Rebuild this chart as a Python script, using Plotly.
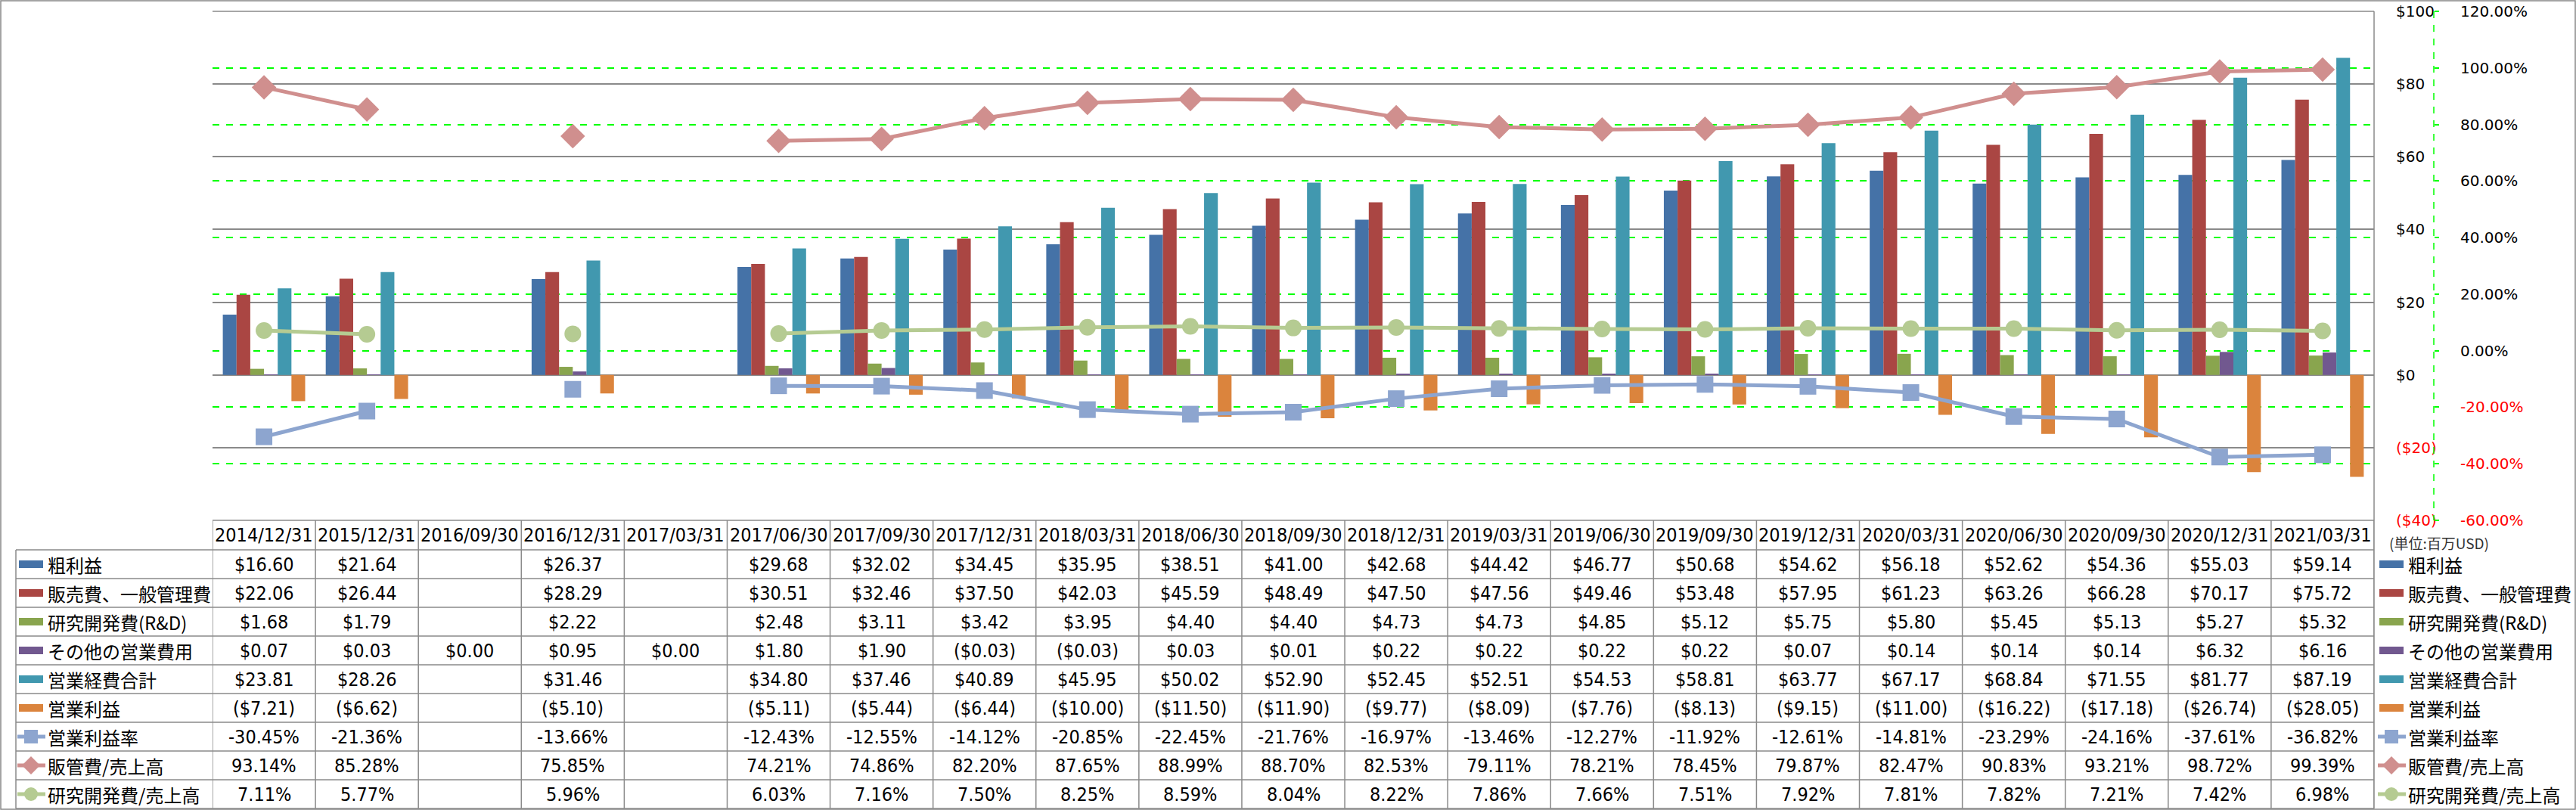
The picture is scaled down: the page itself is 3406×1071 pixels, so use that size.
import plotly.graph_objects as go

W, H = 3406, 1071

cats = ["2014/12/31", "2015/12/31", "2016/09/30", "2016/12/31", "2017/03/31",
        "2017/06/30", "2017/09/30", "2017/12/31", "2018/03/31", "2018/06/30",
        "2018/09/30", "2018/12/31", "2019/03/31", "2019/06/30", "2019/09/30",
        "2019/12/31", "2020/03/31", "2020/06/30", "2020/09/30", "2020/12/31",
        "2021/03/31"]

gross = [16.60, 21.64, None, 26.37, None, 29.68, 32.02, 34.45, 35.95, 38.51, 41.00,
         42.68, 44.42, 46.77, 50.68, 54.62, 56.18, 52.62, 54.36, 55.03, 59.14]
sga = [22.06, 26.44, None, 28.29, None, 30.51, 32.46, 37.50, 42.03, 45.59, 48.49,
       47.50, 47.56, 49.46, 53.48, 57.95, 61.23, 63.26, 66.28, 70.17, 75.72]
rnd = [1.68, 1.79, None, 2.22, None, 2.48, 3.11, 3.42, 3.95, 4.40, 4.40,
       4.73, 4.73, 4.85, 5.12, 5.75, 5.80, 5.45, 5.13, 5.27, 5.32]
other = [0.07, 0.03, 0.00, 0.95, 0.00, 1.80, 1.90, -0.03, -0.03, 0.03, 0.01,
         0.22, 0.22, 0.22, 0.22, 0.07, 0.14, 0.14, 0.14, 6.32, 6.16]
opex = [23.81, 28.26, None, 31.46, None, 34.80, 37.46, 40.89, 45.95, 50.02, 52.90,
        52.45, 52.51, 54.53, 58.81, 63.77, 67.17, 68.84, 71.55, 81.77, 87.19]
opinc = [-7.21, -6.62, None, -5.10, None, -5.11, -5.44, -6.44, -10.00, -11.50, -11.90,
         -9.77, -8.09, -7.76, -8.13, -9.15, -11.00, -16.22, -17.18, -26.74, -28.05]
opm = [-30.45, -21.36, None, -13.66, None, -12.43, -12.55, -14.12, -20.85, -22.45, -21.76,
       -16.97, -13.46, -12.27, -11.92, -12.61, -14.81, -23.29, -24.16, -37.61, -36.82]
sga_ratio = [93.14, 85.28, None, 75.85, None, 74.21, 74.86, 82.20, 87.65, 88.99, 88.70,
             82.53, 79.11, 78.21, 78.45, 79.87, 82.47, 90.83, 93.21, 98.72, 99.39]
rnd_ratio = [7.11, 5.77, None, 5.96, None, 6.03, 7.16, 7.50, 8.25, 8.59, 8.04,
             8.22, 7.86, 7.66, 7.51, 7.92, 7.81, 7.82, 7.21, 7.42, 6.98]

y1_ticks = [-40, -20, 0, 20, 40, 60, 80, 100]
y2_ticks = [-60, -40, -20, 0, 20, 40, 60, 80, 100, 120]
unit_note = "(単位:百万USD)"

bar_series = [
    ("粗利益", gross, "#4572A7"),
    ("販売費、一般管理費", sga, "#AA4643"),
    ("研究開発費(R&D)", rnd, "#89A54E"),
    ("その他の営業費用", other, "#71588F"),
    ("営業経費合計", opex, "#4198AF"),
    ("営業利益", opinc, "#DB843D"),
]
line_series = [
    ("営業利益率", opm, "#8DA5CF", "square", 22),
    ("販管費/売上高", sga_ratio, "#D08F8E", "diamond", 25),
    ("研究開発費/売上高", rnd_ratio, "#B5CB92", "circle", 22),
]

# ---- geometry (pixels) ----
PL, PR, PT, PB = 281, 3139, 15, 688
HEAD_BOT = 727
TAB_BOT = 1069
LAB_L = 21
ROW_H = (TAB_BOT - HEAD_BOT) / 9
Y2_X = 3218
LEG_X = 3146

GRID = "#8A8A8A"
NUM_FONT = "Liberation Sans Narrow, Arial Narrow, DejaVu Sans Condensed, Noto Sans CJK JP, sans-serif"
JP_FONT = "Noto Sans CJK JP, sans-serif"
AX_FONT = "DejaVu Sans, sans-serif"


def fx(x):
    return x / W


def fy(y):
    return 1 - y / H


def money(v):
    if v is None:
        return ""
    return "(${:.2f})".format(abs(v)) if v < 0 else "${:.2f}".format(v)


def pct(v):
    if v is None:
        return ""
    return "{:.2f}%".format(v)


fig = go.Figure()

for name, vals, col in bar_series:
    fig.add_trace(go.Bar(x=cats, y=vals, name=name, marker=dict(color=col, line=dict(width=0)),
                         yaxis="y", showlegend=False))

for name, vals, col, sym, sz in line_series:
    fig.add_trace(go.Scatter(x=cats, y=vals, name=name, mode="lines+markers", yaxis="y2",
                             connectgaps=False, line=dict(color=col, width=5),
                             marker=dict(symbol=sym, size=sz, color=col, line=dict(width=0)),
                             showlegend=False))


def red(t, neg):
    return "<span style='color:#FF0000'>%s</span>" % t if neg else t


y1_text = [red("(${})".format(abs(v)) if v < 0 else "${}".format(v), v < 0) for v in y1_ticks]
y2_text = [red("{:.2f}%".format(v), v < 0) for v in y2_ticks]

shapes = []
annotations = []

# outer chart border
shapes.append(dict(type="rect", xref="paper", yref="paper", x0=fx(1), x1=fx(W - 1), y0=fy(1), y1=fy(H - 1),
                   line=dict(color="#868686", width=1.5), layer="below"))
# plot top border and right border (extends into table)
shapes.append(dict(type="line", xref="paper", yref="paper", x0=fx(PL), x1=fx(PR), y0=fy(PT), y1=fy(PT),
                   line=dict(color=GRID, width=1.5), layer="below"))
shapes.append(dict(type="line", xref="paper", yref="paper", x0=fx(PR), x1=fx(PR), y0=fy(PT), y1=fy(TAB_BOT),
                   line=dict(color=GRID, width=1.5)))
# secondary axis dashed line
shapes.append(dict(type="line", xref="paper", yref="paper", x0=fx(Y2_X), x1=fx(Y2_X), y0=fy(PT), y1=fy(PB),
                   line=dict(color="#00FF00", width=1.5, dash="dash")))

# ---- data table ----
shapes.append(dict(type="line", xref="paper", yref="paper", x0=fx(PL), x1=fx(PR), y0=fy(PB), y1=fy(PB),
                   line=dict(color=GRID, width=1.5)))
for k in range(10):
    yy = HEAD_BOT + k * ROW_H
    shapes.append(dict(type="line", xref="paper", yref="paper", x0=fx(LAB_L), x1=fx(PR), y0=fy(yy), y1=fy(yy),
                       line=dict(color=GRID, width=1.5)))
for k in range(len(cats) + 1):
    shapes.append(dict(type="line", xref="x", yref="paper", x0=k - 0.5, x1=k - 0.5, y0=fy(PB), y1=fy(TAB_BOT),
                       line=dict(color=GRID, width=1.5)))
shapes.append(dict(type="line", xref="paper", yref="paper", x0=fx(LAB_L), x1=fx(LAB_L), y0=fy(HEAD_BOT),
                   y1=fy(TAB_BOT), line=dict(color=GRID, width=1.5)))

# header dates
for c in cats:
    annotations.append(dict(x=c, xref="x", y=fy((PB + HEAD_BOT) / 2), yref="paper", text=c, showarrow=False,
                            xanchor="center", yanchor="middle", font=dict(family=NUM_FONT, size=25, color="#000")))

rows = [(name, vals, money) for name, vals, col in bar_series] + \
       [(name, vals, pct) for name, vals, col, s, z in line_series]

for r, (name, vals, fmt) in enumerate(rows):
    yc = HEAD_BOT + (r + 0.5) * ROW_H
    for c, v in zip(cats, vals):
        if v is None:
            continue
        annotations.append(dict(x=c, xref="x", y=fy(yc), yref="paper", text=fmt(v), showarrow=False,
                                xanchor="center", yanchor="middle",
                                font=dict(family=NUM_FONT, size=25, color="#000")))

# legend keys (table + right legend)
keys = [("bar", name, col, None) for name, vals, col in bar_series] + \
       [("line", name, col, sym) for name, vals, col, sym, sz in line_series]


def add_key(kind, col, sym, xl, yc):
    if kind == "bar":
        shapes.append(dict(type="rect", xref="paper", yref="paper", x0=fx(xl), x1=fx(xl + 32),
                           y0=fy(yc - 5), y1=fy(yc + 5), fillcolor=col, line=dict(width=0)))
    else:
        shapes.append(dict(type="line", xref="paper", yref="paper", x0=fx(xl - 2), x1=fx(xl + 35),
                           y0=fy(yc), y1=fy(yc), line=dict(color=col, width=5)))
        cx = xl + 16
        if sym == "square":
            shapes.append(dict(type="rect", xref="paper", yref="paper", x0=fx(cx - 9), x1=fx(cx + 9),
                               y0=fy(yc - 9), y1=fy(yc + 9), fillcolor=col, line=dict(width=0)))
        elif sym == "circle":
            shapes.append(dict(type="circle", xref="paper", yref="paper", x0=fx(cx - 9), x1=fx(cx + 9),
                               y0=fy(yc - 9), y1=fy(yc + 9), fillcolor=col, line=dict(width=0)))
        else:
            p = "M {},{} L {},{} L {},{} L {},{} Z".format(fx(cx - 12), fy(yc), fx(cx), fy(yc - 12),
                                                          fx(cx + 12), fy(yc), fx(cx), fy(yc + 12))
            shapes.append(dict(type="path", xref="paper", yref="paper", path=p, fillcolor=col,
                               line=dict(width=0)))


for r, (kind, name, col, sym) in enumerate(keys):
    yc = HEAD_BOT + (r + 0.5) * ROW_H
    add_key(kind, col, sym, 25, yc)
    annotations.append(dict(x=fx(61), xref="paper", y=fy(yc), yref="paper", text=name, showarrow=False,
                            xanchor="left", yanchor="middle", font=dict(family=JP_FONT, size=24, color="#000")))
    add_key(kind, col, sym, LEG_X, yc)
    annotations.append(dict(x=fx(LEG_X + 36), xref="paper", y=fy(yc), yref="paper", text=name, showarrow=False,
                            xanchor="left", yanchor="middle", font=dict(family=JP_FONT, size=24, color="#000")))

annotations.append(dict(x=fx(3157), xref="paper", y=fy(717), yref="paper", text=unit_note, showarrow=False,
                        xanchor="left", yanchor="middle", font=dict(family=JP_FONT, size=19, color="#333")))

fig.update_layout(
    width=W, height=H,
    margin=dict(l=0, r=0, t=0, b=0, autoexpand=False),
    paper_bgcolor="white", plot_bgcolor="rgba(0,0,0,0)",
    barmode="group", bargap=0.2, bargroupgap=0,
    showlegend=False,
    xaxis=dict(domain=[fx(PL), fx(PR)], type="category", range=[-0.5, len(cats) - 0.5],
               showticklabels=False, showgrid=False, zeroline=False, showline=False, ticks=""),
    yaxis=dict(domain=[fy(PB), fy(PT)], range=[-40, 100], side="right", anchor="free", position=fx(PR),
               tickmode="array", tickvals=y1_ticks, ticktext=y1_text, showgrid=True, gridcolor=GRID,
               gridwidth=1.5, zeroline=False, showline=False, ticks="", ticklabelstandoff=28,
               tickfont=dict(family=AX_FONT, size=20, color="#000")),
    yaxis2=dict(overlaying="y", range=[-60, 120], side="right", anchor="free", position=fx(Y2_X),
                tickmode="array", tickvals=y2_ticks, ticktext=y2_text, showgrid=True, gridcolor="#00FF00",
                griddash="dash", gridwidth=1.5, zeroline=False, showline=False, ticks="outside",
                ticklen=6, tickwidth=1.5, tickcolor="#00FF00", ticklabelstandoff=24,
                tickfont=dict(family=AX_FONT, size=20, color="#000")),
    shapes=shapes,
    annotations=annotations,
)

fig.write_html("out.html", config={"displayModeBar": False},
               post_script="document.body.style.margin='0';document.body.style.overflow='hidden';")
